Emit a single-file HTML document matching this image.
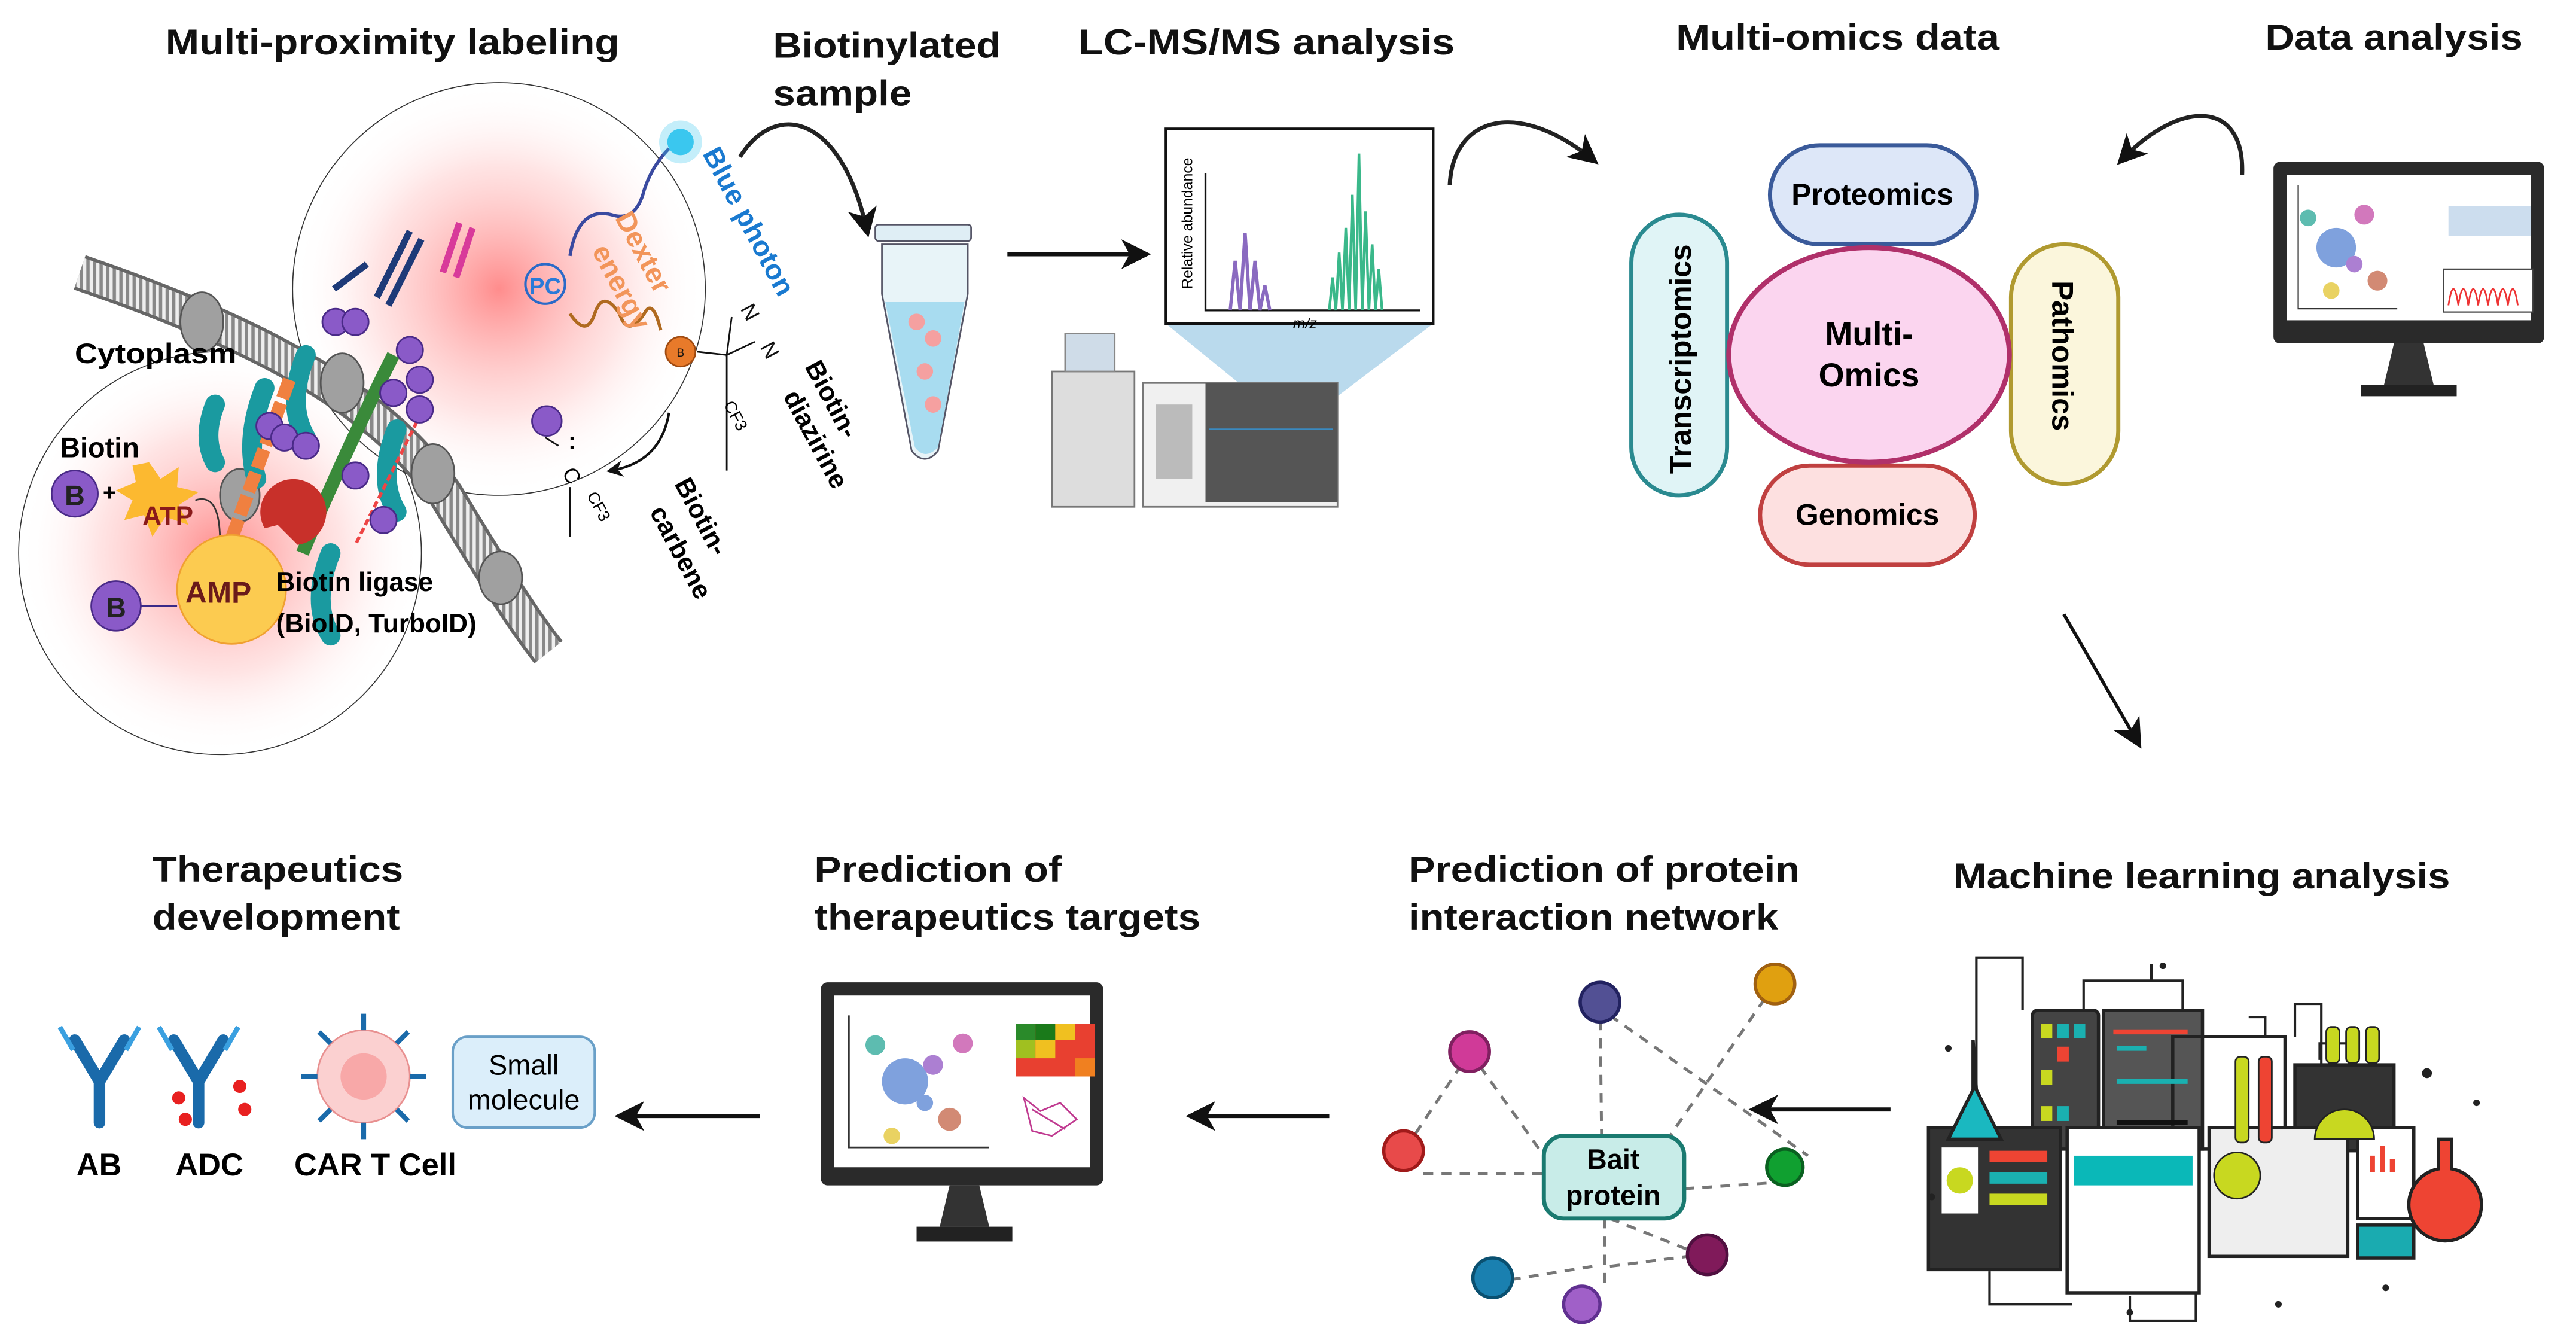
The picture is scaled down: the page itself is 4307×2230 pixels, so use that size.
<!DOCTYPE html>
<html><head><meta charset="utf-8">
<style>
html,body{margin:0;padding:0;background:#fff;}
svg{display:block;}
text{font-family:"Liberation Sans",sans-serif;}
.t{font-weight:bold;font-size:22px;fill:#111;}
.b{font-weight:bold;}
</style></head>
<body>
<svg width="4307" height="2230" viewBox="0 0 1560 808" xmlns="http://www.w3.org/2000/svg">
<defs>
<radialGradient id="rg"><stop offset="0" stop-color="#f66" stop-opacity=".75"/><stop offset=".6" stop-color="#fbb" stop-opacity=".4"/><stop offset="1" stop-color="#fff" stop-opacity="0"/></radialGradient>
<marker id="ah" markerWidth="10" markerHeight="10" refX="7" refY="5" orient="auto" markerUnits="userSpaceOnUse"><path d="M0,0 L10,5 L0,10 L3,5z" fill="#111"/></marker>
<marker id="ah2" markerWidth="18" markerHeight="18" refX="14" refY="9" orient="auto" markerUnits="userSpaceOnUse"><path d="M0,0 L18,9 L0,18 L5,9z" fill="#111"/></marker>
<pattern id="mem" width="4" height="4" patternUnits="userSpaceOnUse"><rect width="4" height="4" fill="#eee"/><rect width="2" height="4" fill="#888"/></pattern>
</defs>
<rect width="1560" height="808" fill="#fff"/>

<!-- Titles -->
<text class="t" x="100" y="33" textLength="275" lengthAdjust="spacingAndGlyphs">Multi-proximity labeling</text>
<text class="t" x="468" y="35" textLength="138" lengthAdjust="spacingAndGlyphs">Biotinylated</text>
<text class="t" x="468" y="64" textLength="84" lengthAdjust="spacingAndGlyphs">sample</text>
<text class="t" x="653" y="33" textLength="228" lengthAdjust="spacingAndGlyphs">LC-MS/MS analysis</text>
<text class="t" x="1015" y="30" textLength="196" lengthAdjust="spacingAndGlyphs">Multi-omics data</text>
<text class="t" x="1372" y="30" textLength="156" lengthAdjust="spacingAndGlyphs">Data analysis</text>
<text class="t" x="92" y="534" textLength="152" lengthAdjust="spacingAndGlyphs">Therapeutics</text>
<text class="t" x="92" y="563" textLength="150" lengthAdjust="spacingAndGlyphs">development</text>
<text class="t" x="493" y="534" textLength="150" lengthAdjust="spacingAndGlyphs">Prediction of</text>
<text class="t" x="493" y="563" textLength="234" lengthAdjust="spacingAndGlyphs">therapeutics targets</text>
<text class="t" x="853" y="534" textLength="237" lengthAdjust="spacingAndGlyphs">Prediction of protein</text>
<text class="t" x="853" y="563" textLength="224" lengthAdjust="spacingAndGlyphs">interaction network</text>
<text class="t" x="1183" y="538" textLength="301" lengthAdjust="spacingAndGlyphs">Machine learning analysis</text>

<!-- Proximity labeling region -->
<circle cx="133" cy="335" r="122" fill="url(#rg)" stroke="#333" stroke-width=".6"/>
<circle cx="302" cy="175" r="125" fill="url(#rg)" stroke="#333" stroke-width=".6"/>
<!-- membrane -->
<path d="M48,165 C150,200 230,240 270,300 C300,350 320,380 332,395" stroke="#666" stroke-width="22" fill="none"/>
<path d="M48,165 C150,200 230,240 270,300 C300,350 320,380 332,395" stroke="url(#mem)" stroke-width="18" fill="none"/>
<g fill="#a0a0a0" stroke="#555"><ellipse cx="122" cy="195" rx="13" ry="18"/><ellipse cx="207" cy="232" rx="13" ry="18"/><ellipse cx="262" cy="287" rx="13" ry="18"/><ellipse cx="303" cy="350" rx="13" ry="16"/><ellipse cx="145" cy="300" rx="12" ry="16"/></g>
<!-- proteins -->
<g stroke="#1a9aa0" stroke-width="12" fill="none" stroke-linecap="round">
<path d="M160,235 q-12,30 -5,55"/><path d="M185,215 q-12,30 0,50"/><path d="M240,260 q-12,30 0,50"/><path d="M200,335 q-12,30 0,50"/><path d="M130,245 q-8,20 0,35"/></g>
<path d="M175,230 l-40,110" stroke="#f08040" stroke-width="8" stroke-dasharray="12 3" fill="none"/>
<path d="M238,215 q-30,60 -55,120" stroke="#3a8a3a" stroke-width="8" fill="none"/>
<path d="M255,250 l-40,80" stroke="#e44" stroke-width="2" stroke-dasharray="4 2" fill="none"/>
<path d="M228,180 l20,-40 M235,185 l20,-40 M222,160 l-20,15" stroke="#1e3a78" stroke-width="4" fill="none"/>
<path d="M268,165 l10,-30 M276,168 l10,-30" stroke="#d83a9a" stroke-width="4" fill="none"/>
<g fill="#8a5ac8" stroke="#4a2a88"><circle cx="203" cy="195" r="8"/><circle cx="215" cy="195" r="8"/><circle cx="248" cy="212" r="8"/><circle cx="254" cy="230" r="8"/><circle cx="254" cy="248" r="8"/><circle cx="163" cy="258" r="8"/><circle cx="172" cy="265" r="8"/><circle cx="185" cy="270" r="8"/><circle cx="215" cy="288" r="8"/><circle cx="232" cy="315" r="8"/><circle cx="238" cy="238" r="8"/><circle cx="331" cy="255" r="9"/></g>
<circle cx="412" cy="213" r="9" fill="#e87a2a" stroke="#a04a10"/>
<text x="412" y="216" font-size="7" text-anchor="middle" fill="#111">B</text>
<circle cx="330" cy="172" r="12" fill="none" stroke="#2a6ac8" stroke-width="1.5"/>
<text x="330" y="178" font-size="14" fill="#2a7ad8" text-anchor="middle" class="b">PC</text>
<path d="M405,90 q-10,10 -15,25 q-5,20 -20,15 q-20,-5 -25,25" stroke="#3a4aa0" stroke-width="2" fill="none"/>
<path d="M345,190 q10,15 15,0 q5,-15 15,0 q5,15 15,0 q5,-10 10,10" stroke="#b06a20" stroke-width="2" fill="none"/>
<circle cx="412" cy="86" r="8" fill="#3ac8f0"/><circle cx="412" cy="86" r="13" fill="#3ac8f0" opacity=".3"/>
<text transform="translate(425,93) rotate(62)" font-size="17" class="b" fill="#1a7ad0">Blue photon</text>
<text transform="translate(372,132) rotate(62)" font-size="17" class="b" fill="#f2955a">Dexter</text>
<text transform="translate(358,152) rotate(62)" font-size="17" class="b" fill="#f2955a">energy</text>
<text transform="translate(448,187) rotate(62)" font-size="13" fill="#111">N</text>
<text transform="translate(460,210) rotate(62)" font-size="13" fill="#111">N</text>
<path d="M422,213 l18,2 M440,215 v70 M443,192 l-3,23 l17,-8" stroke="#111" fill="none"/>
<text transform="translate(438,245) rotate(62)" font-size="10">CF3</text>
<text transform="translate(487,222) rotate(62)" font-size="16" class="b">Biotin-</text>
<text transform="translate(474,240) rotate(62)" font-size="16" class="b">diazirine</text>
<path d="M405,250 q-5,30 -35,35" stroke="#111" stroke-width="1.5" fill="none" marker-end="url(#ah)"/>
<text transform="translate(340,286) rotate(62)" font-size="13">C</text>
<text x="344" y="272" font-size="14" class="b">:</text>
<path d="M338,270 l-8,-5 M345,295 v30" stroke="#111" fill="none"/>
<text transform="translate(355,300) rotate(62)" font-size="10">CF3</text>
<text transform="translate(408,293) rotate(62)" font-size="16" class="b">Biotin-</text>
<text transform="translate(393,310) rotate(62)" font-size="16" class="b">carbene</text>
<text x="45" y="220" font-size="17" class="b" textLength="98" lengthAdjust="spacingAndGlyphs">Cytoplasm</text>
<text x="36" y="277" font-size="17" class="b">Biotin</text>
<circle cx="45" cy="299" r="14" fill="#8a5ac8" stroke="#4a2a88"/><text x="45" y="306" font-size="17" text-anchor="middle" class="b" fill="#222">B</text>
<text x="62" y="303" font-size="14" class="b">+</text>
<polygon points="90,280 97,290 108,283 107,295 120,298 108,306 114,318 100,313 92,325 87,312 75,315 80,303 70,297 82,292 80,282" fill="#fcb930"/>
<text x="86" y="318" font-size="16" fill="#8a1a1a" class="b">ATP</text>
<path d="M160,320 a20,20 0 1 1 20,10 l-12,-12 z" fill="#c8302a"/>
<path d="M118,303 q15,-5 15,25" stroke="#333" fill="none"/>
<circle cx="140" cy="357" r="33" fill="#fccb50" stroke="#f0a030"/>
<text x="112" y="365" font-size="18" class="b" fill="#6a1a1a">AMP</text>
<circle cx="70" cy="367" r="15" fill="#8a5ac8" stroke="#4a2a88"/><text x="70" y="374" font-size="17" text-anchor="middle" class="b" fill="#222">B</text>
<path d="M85,367 h22" stroke="#3a2a88"/>
<text x="167" y="358" font-size="16" class="b">Biotin ligase</text>
<text x="167" y="383" font-size="16" class="b">(BioID, TurboID)</text>

<path d="M448,95 C470,60 510,70 525,140" stroke="#222" stroke-width="2.5" fill="none" marker-end="url(#ah2)"/>
<!-- tube -->
<rect x="530" y="136" width="58" height="10" rx="2" fill="#dfeef5" stroke="#556"/>
<path d="M534,148 h52 v30 l-18,95 q-8,10 -16,0 l-18,-95 z" fill="#e8f4f8" stroke="#556"/>
<path d="M536,183 h48 l-16,88 q-8,8 -14,0 z" fill="#a8dcf0"/>
<circle cx="555" cy="195" r="5" fill="#f5a0a0"/><circle cx="565" cy="205" r="5" fill="#f5a0a0"/><circle cx="560" cy="225" r="5" fill="#f5a0a0"/><circle cx="565" cy="245" r="5" fill="#f5a0a0"/>
<line x1="610" y1="154" x2="693" y2="154" stroke="#111" stroke-width="2.5" marker-end="url(#ah2)"/>
<!-- MS graph -->
<polygon points="706,196 868,196 810,240 760,240" fill="#9ccbe5" opacity=".7"/>
<rect x="706" y="78" width="162" height="118" fill="#fff" stroke="#111" stroke-width="1.5"/>
<path d="M730,105 V188 H860" stroke="#111" stroke-width="1.2" fill="none"/>
<path d="M745,188 l3,-30 l3,30 l3,-47 l3,47 l3,-30 l3,30 l3,-15 l3,15" stroke="#8a6ac0" stroke-width="2" fill="none"/>
<path d="M805,188 l2,-20 l2,20 l2,-35 l2,35 l2,-50 l2,50 l2,-70 l2,70 l2,-95 l2,95 l2,-60 l2,60 l2,-40 l2,40 l2,-25 l2,25" stroke="#3ab88a" stroke-width="1.6" fill="none"/>
<text transform="translate(722,175) rotate(-90)" font-size="9">Relative abundance</text>
<text x="783" y="199" font-size="9" font-style="italic">m/z</text>
<!-- instrument -->
<rect x="637" y="225" width="50" height="82" fill="#ddd" stroke="#777"/>
<rect x="645" y="202" width="30" height="23" fill="#cfdce8" stroke="#888"/>
<rect x="692" y="232" width="118" height="75" fill="#f0f0f0" stroke="#777"/>
<rect x="730" y="232" width="80" height="72" fill="#555"/>
<rect x="700" y="245" width="22" height="45" fill="#bbb"/>
<path d="M732,260 h75" stroke="#3a8ac0"/>
<path d="M878,112 C880,70 920,60 965,97" stroke="#222" stroke-width="2.5" fill="none" marker-end="url(#ah2)"/>
<path d="M1358,106 C1360,60 1320,60 1285,97" stroke="#222" stroke-width="2.5" fill="none" marker-end="url(#ah2)"/>

<!-- Omics -->
<rect x="1072" y="88" width="125" height="60" rx="30" fill="#dde7f8" stroke="#3a5a9a" stroke-width="2.5"/>
<text x="1134" y="124" font-size="18" text-anchor="middle" class="b">Proteomics</text>
<rect x="988" y="130" width="58" height="170" rx="29" fill="#e0f4f6" stroke="#2a8a90" stroke-width="2.5"/>
<text transform="translate(1024,287) rotate(-90)" font-size="18" class="b">Transcriptomics</text>
<rect x="1218" y="148" width="65" height="145" rx="32" fill="#fbf6dc" stroke="#b09a30" stroke-width="2.5"/>
<text transform="translate(1243,170) rotate(90)" font-size="18" class="b">Pathomics</text>
<rect x="1066" y="282" width="130" height="60" rx="30" fill="#fde0e0" stroke="#c04040" stroke-width="2.5"/>
<text x="1131" y="318" font-size="18" text-anchor="middle" class="b">Genomics</text>
<ellipse cx="1132" cy="215" rx="85" ry="65" fill="#fbd5ef" stroke="#b0306a" stroke-width="3"/>
<text x="1132" y="209" font-size="20" text-anchor="middle" class="b">Multi-</text>
<text x="1132" y="234" font-size="20" text-anchor="middle" class="b">Omics</text>

<!-- top-right monitor -->
<rect x="1377" y="98" width="164" height="110" rx="4" fill="#2a2a2a"/>
<rect x="1385" y="106" width="148" height="88" fill="#fff"/>
<path d="M1450,208 l-6,25 h30 l-6,-25z" fill="#333"/><rect x="1430" y="233" width="58" height="7" fill="#222"/>
<g opacity=".7"><circle cx="1398" cy="132" r="5" fill="#1aa090"/><circle cx="1415" cy="150" r="12" fill="#4a7ad0"/><circle cx="1432" cy="130" r="6" fill="#c040a0"/><circle cx="1440" cy="170" r="6" fill="#c05a3a"/><circle cx="1412" cy="176" r="5" fill="#e0c020"/><circle cx="1426" cy="160" r="5" fill="#8a4ac0"/></g>
<path d="M1392,112 v75 h60" stroke="#333" fill="none" stroke-width=".8"/>
<rect x="1483" y="125" width="50" height="18" fill="#cde"/>
<rect x="1480" y="163" width="54" height="26" fill="#fff" stroke="#444" stroke-width=".8"/>
<path d="M1483,185 q3,-20 6,0 q3,-20 6,0 q3,-20 6,0 q3,-20 6,0 q3,-20 6,0 q3,-20 6,0 q3,-20 6,0" stroke="#e33" fill="none"/>
<line x1="1250" y1="372" x2="1295" y2="450" stroke="#111" stroke-width="2" marker-end="url(#ah2)"/>

<!-- ML illustration -->
<g stroke="#222" stroke-width="1.5" fill="none">
<path d="M1197,660 v-80 h28 v32 M1262,612 v-18 h60 v18 M1303,594 v-10 M1372,628 v-12 h-10 M1390,628 v-20 h16 v58 M1405,642 v-10 h20 M1422,670 h18 v30 M1205,770 v20 h50 M1290,785 v15 h40 v-20"/>
</g>
<g stroke="#222" stroke-width="2">
<rect x="1231" y="612" width="40" height="84" rx="3" fill="#444"/>
<rect x="1274" y="612" width="60" height="84" fill="#555"/>
<rect x="1316" y="628" width="68" height="68" fill="none"/>
<rect x="1390" y="645" width="60" height="52" fill="#333"/>
<rect x="1168" y="683" width="80" height="86" fill="#333"/>
<rect x="1252" y="683" width="80" height="100" fill="#fff"/>
<rect x="1338" y="683" width="84" height="78" fill="#eee"/>
<rect x="1428" y="683" width="34" height="55" fill="#fff"/>
<rect x="1428" y="742" width="34" height="20" fill="#1aabb0"/>
<path d="M1195,630 v30 l-15,30 h32 l-15,-30z" fill="#1ab8c0"/>
<path d="M1485,690 v18 a22,22 0 1 1 -8,0 v-18z" fill="#e43"/>
</g>
<rect x="1256" y="700" width="72" height="18" fill="#0ab8b8"/>
<rect x="1176" y="695" width="22" height="40" fill="#fff"/><circle cx="1187" cy="715" r="8" fill="#c8d820"/>
<rect x="1205" y="697" width="35" height="7" fill="#e43"/><rect x="1205" y="710" width="35" height="7" fill="#1ab0b0"/><rect x="1205" y="723" width="35" height="7" fill="#c8d820"/>
<circle cx="1355" cy="712" r="14" fill="#c8d820" stroke="#222"/>
<path d="M1437,710 v-10 M1443,710 v-16 M1449,710 v-8" stroke="#e43" stroke-width="3"/>
<g fill="#c8d820"><rect x="1236" y="620" width="7" height="9"/><rect x="1246" y="620" width="7" height="9" fill="#1ab0b0"/><rect x="1256" y="620" width="7" height="9" fill="#1ab0b0"/><rect x="1246" y="634" width="7" height="9" fill="#e43"/><rect x="1236" y="648" width="7" height="9"/><rect x="1236" y="670" width="7" height="9"/><rect x="1246" y="670" width="7" height="9" fill="#1ab0b0"/></g>
<g stroke-width="3"><line x1="1280" y1="625" x2="1325" y2="625" stroke="#e43"/><line x1="1282" y1="635" x2="1300" y2="635" stroke="#1ab0b0"/><line x1="1282" y1="655" x2="1325" y2="655" stroke="#1ab0b0"/><line x1="1282" y1="680" x2="1325" y2="680" stroke="#111"/></g>
<rect x="1354" y="640" width="8" height="52" rx="3" fill="#c8d820" stroke="#222"/><rect x="1368" y="640" width="8" height="52" rx="3" fill="#e43" stroke="#222"/>
<g fill="#c8d820" stroke="#222"><rect x="1409" y="622" width="8" height="22" rx="3"/><rect x="1421" y="622" width="8" height="22" rx="3"/><rect x="1433" y="622" width="8" height="22" rx="3"/></g>
<path d="M1402,690 a18,18 0 0 1 36,0z" fill="#c8d820" stroke="#222"/>
<g fill="#222"><circle cx="1180" cy="635" r="2"/><circle cx="1310" cy="585" r="2"/><circle cx="1470" cy="650" r="3"/><circle cx="1500" cy="668" r="2"/><circle cx="1170" cy="725" r="2"/><circle cx="1290" cy="795" r="2"/><circle cx="1380" cy="790" r="2"/><circle cx="1445" cy="780" r="2"/></g>

<!-- Network -->
<g stroke="#777" stroke-width="1.8" stroke-dasharray="6 5" fill="none">
<line x1="969" y1="607" x2="970" y2="690"/><line x1="975" y1="615" x2="1095" y2="700"/>
<line x1="1075" y1="596" x2="1010" y2="690"/><line x1="890" y1="637" x2="935" y2="700"/>
<line x1="885" y1="645" x2="855" y2="690"/><line x1="862" y1="711" x2="935" y2="711"/>
<line x1="1020" y1="720" x2="1080" y2="716"/><line x1="972" y1="738" x2="972" y2="780"/>
<line x1="975" y1="738" x2="1030" y2="760"/><line x1="915" y1="775" x2="965" y2="767"/><line x1="975" y1="767" x2="1030" y2="760"/>
</g>
<rect x="935" y="688" width="85" height="50" rx="12" fill="#c8ece8" stroke="#1a7a70" stroke-width="2.5"/>
<text x="977" y="708" font-size="17" text-anchor="middle" class="b">Bait</text>
<text x="977" y="730" font-size="17" text-anchor="middle" class="b">protein</text>
<g stroke-width="2">
<circle cx="969" cy="607" r="12" fill="#525094" stroke="#222260"/>
<circle cx="1075" cy="596" r="12" fill="#e0a010" stroke="#a06010"/>
<circle cx="890" cy="637" r="12" fill="#d03a98" stroke="#802060"/>
<circle cx="850" cy="697" r="12" fill="#e84a4a" stroke="#a01a1a"/>
<circle cx="1081" cy="707" r="11" fill="#10a030" stroke="#0a6020"/>
<circle cx="1034" cy="760" r="12" fill="#801a5a" stroke="#501040"/>
<circle cx="904" cy="774" r="12" fill="#1a80b0" stroke="#0a5070"/>
<circle cx="958" cy="790" r="11" fill="#a060c8" stroke="#603090"/>
</g>
<line x1="1145" y1="672" x2="1063" y2="672" stroke="#111" stroke-width="2.5" marker-end="url(#ah2)"/>
<line x1="805" y1="676" x2="722" y2="676" stroke="#111" stroke-width="2.5" marker-end="url(#ah2)"/>
<line x1="460" y1="676" x2="376" y2="676" stroke="#111" stroke-width="2.5" marker-end="url(#ah2)"/>

<!-- bottom monitor -->
<rect x="497" y="595" width="171" height="123" rx="4" fill="#2a2a2a"/>
<rect x="505" y="603" width="155" height="104" fill="#fff"/>
<path d="M575,718 l-6,25 h30 l-6,-25z" fill="#333"/><rect x="555" y="743" width="58" height="9" fill="#222"/>
<path d="M514,615 v80 h85" stroke="#333" fill="none"/>
<g opacity=".7"><circle cx="548" cy="655" r="14" fill="#4a7ad0"/><circle cx="530" cy="633" r="6" fill="#1aa090"/><circle cx="575" cy="678" r="7" fill="#c05a3a"/><circle cx="583" cy="632" r="6" fill="#c040a0"/><circle cx="540" cy="688" r="5" fill="#e0c020"/><circle cx="565" cy="645" r="6" fill="#8a4ac0"/><circle cx="560" cy="668" r="5" fill="#4a7ad0"/></g>
<g><rect x="615" y="620" width="48" height="32" fill="#e84030"/><rect x="615" y="620" width="12" height="10" fill="#2a8a2a"/><rect x="627" y="620" width="12" height="10" fill="#1a7a1a"/><rect x="639" y="620" width="12" height="10" fill="#f0c020"/><rect x="615" y="630" width="12" height="11" fill="#a0c020"/><rect x="627" y="630" width="12" height="11" fill="#f0c020"/><rect x="651" y="641" width="12" height="11" fill="#f08020"/></g>
<path d="M620,665 l10,8 l12,-5 l10,10 l-15,10 l-12,-3 z M625,672 l20,12" stroke="#c03a90" fill="none"/>

<!-- Therapeutics icons -->
<g stroke="#1a6aaa" stroke-width="7" stroke-linecap="round" fill="none">
<path d="M60,680 v-25 l-15,-25 M60,655 l15,-25"/>
<path d="M120,680 v-25 l-15,-25 M120,655 l15,-25"/>
</g>
<g stroke="#3aa0e0" stroke-width="3" fill="none"><path d="M44,636 l-8,-14 M76,636 l8,-14 M104,636 l-8,-14 M136,636 l8,-14"/></g>
<g fill="#e82020"><circle cx="108" cy="665" r="4"/><circle cx="112" cy="678" r="4"/><circle cx="145" cy="658" r="4"/><circle cx="148" cy="672" r="4"/></g>
<circle cx="220" cy="652" r="28" fill="#fbd0d0" stroke="#e89090"/><circle cx="220" cy="652" r="14" fill="#f8a8a8"/>
<g stroke="#1a6aaa" stroke-width="3"><path d="M220,624 v-10 M220,680 v10 M192,652 h-10 M248,652 h10 M200,632 l-7,-7 M240,632 l7,-7 M200,672 l-7,7 M240,672 l7,7"/></g>
<rect x="274" y="628" width="86" height="55" rx="9" fill="#dbeefa" stroke="#6aa0c8" stroke-width="1.5"/>
<text x="317" y="651" font-size="17" text-anchor="middle">Small</text>
<text x="317" y="672" font-size="17" text-anchor="middle">molecule</text>
<text x="46" y="712" font-size="19" class="b">AB</text>
<text x="106" y="712" font-size="19" class="b">ADC</text>
<text x="178" y="712" font-size="19" class="b">CAR T Cell</text>
</svg>
</body></html>
